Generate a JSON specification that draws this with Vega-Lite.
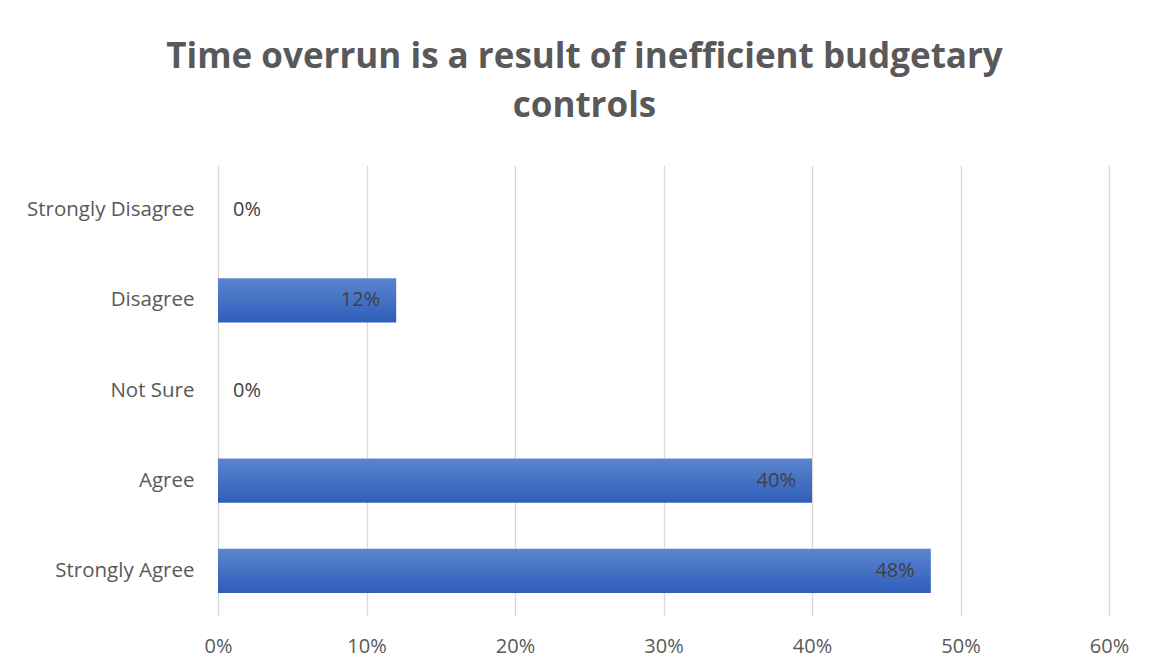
{
  "$schema": "https://vega.github.io/schema/vega-lite/v6.json",
  "autosize": "none",
  "width": 891,
  "height": 451,
  "padding": {"left": 218, "top": 165, "right": 40, "bottom": 56},
  "background": "white",
  "title": {
    "text": ["Time overrun is a result of inefficient budgetary", "controls"],
    "font": "Open Sans",
    "fontSize": 35,
    "fontWeight": "bold",
    "color": "#595959",
    "anchor": "middle",
    "frame": "group",
    "dx": -79,
    "lineHeight": 49,
    "offset": 41
  },
  "config": {
    "view": {"stroke": null},
    "font": "Open Sans"
  },
  "data": {
    "values": [
      {"category": "Strongly Disagree", "value": 0},
      {"category": "Disagree", "value": 0.12},
      {"category": "Not Sure", "value": 0},
      {"category": "Agree", "value": 0.40},
      {"category": "Strongly Agree", "value": 0.48}
    ]
  },
  "encoding": {
    "y": {
      "field": "category",
      "type": "nominal",
      "sort": ["Strongly Disagree", "Disagree", "Not Sure", "Agree", "Strongly Agree"],
      "scale": {"paddingInner": 0.51, "paddingOuter": 0.255},
      "axis": {
        "title": null,
        "domain": false,
        "ticks": false,
        "labelFont": "Open Sans",
        "labelFontSize": 20.5,
        "labelColor": "#595959",
        "labelPadding": 24
      }
    },
    "x": {
      "field": "value",
      "type": "quantitative",
      "scale": {"domain": [0, 0.6]},
      "axis": {
        "title": null,
        "format": ".0%",
        "values": [0, 0.1, 0.2, 0.3, 0.4, 0.5, 0.6],
        "domain": false,
        "ticks": false,
        "grid": true,
        "gridColor": "#d9d9d9",
        "gridWidth": 1.3,
        "labelFlush": false,
        "labelFont": "Open Sans",
        "labelFontSize": 20,
        "labelColor": "#595959",
        "labelPadding": 20
      }
    }
  },
  "layer": [
    {
      "mark": {
        "type": "bar",
        "color": {
          "gradient": "linear",
          "x1": 0, "y1": 0, "x2": 0, "y2": 1,
          "stops": [
            {"offset": 0, "color": "#5b85d0"},
            {"offset": 1, "color": "#2f5db9"}
          ]
        }
      }
    },
    {
      "transform": [{"filter": "datum.value > 0"}],
      "mark": {"type": "text", "align": "right", "dx": -16, "font": "Open Sans", "fontSize": 20, "color": "#404040"},
      "encoding": {"text": {"field": "value", "type": "quantitative", "format": ".0%"}}
    },
    {
      "transform": [{"filter": "datum.value == 0"}],
      "mark": {"type": "text", "align": "left", "dx": 15, "font": "Open Sans", "fontSize": 20, "color": "#404040"},
      "encoding": {"text": {"field": "value", "type": "quantitative", "format": ".0%"}}
    }
  ]
}
